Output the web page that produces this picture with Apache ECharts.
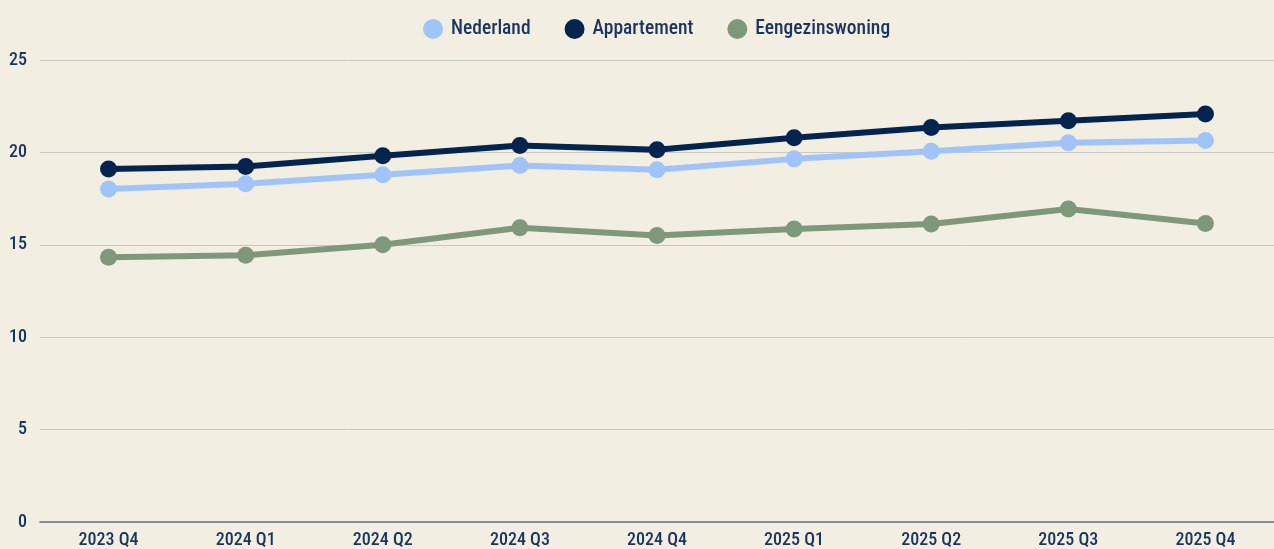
<!DOCTYPE html>
<html>
<head>
<meta charset="utf-8">
<script src="https://cdn.jsdelivr.net/npm/echarts@6/dist/echarts.min.js"></script>
<style>
  html, body { margin: 0; padding: 0; background: #f2eee2; }
  #chart { width: 1274px; height: 549px; }
</style>
</head>
<body>
<div id="chart"></div>
<script>
var categories = ['2023 Q4', '2024 Q1', '2024 Q2', '2024 Q3', '2024 Q4', '2025 Q1', '2025 Q2', '2025 Q3', '2025 Q4'];
var nederland = [18.02, 18.30, 18.79, 19.29, 19.06, 19.65, 20.06, 20.52, 20.65];
var appartement = [19.10, 19.24, 19.82, 20.37, 20.14, 20.79, 21.35, 21.71, 22.08];
var eengezinswoning = [14.33, 14.43, 15.00, 15.92, 15.50, 15.86, 16.13, 16.94, 16.15];

var font = '"Roboto Condensed", "DejaVu Sans Condensed", sans-serif';
var textColor = '#1b355e';

function lineSeries(name, data, color) {
  return {
    name: name,
    type: 'line',
    data: data,
    symbol: 'circle',
    symbolSize: 17,
    lineStyle: { width: 6, color: color },
    itemStyle: { color: color },
    emphasis: { disabled: true }
  };
}

var chart = echarts.init(document.getElementById('chart'));
chart.setOption({
  backgroundColor: '#f2eee2',
  animation: false,
  textStyle: { fontFamily: font },
  legend: {
    top: 14,
    left: 418,
    icon: 'circle',
    itemWidth: 20,
    itemHeight: 20,
    itemGap: 34,
    textStyle: { fontFamily: font, fontSize: 19.5, fontWeight: 500, color: textColor, padding: [0, 0, 0, 3] }
  },
  grid: { left: 40, right: 0, top: 60, bottom: 26 },
  xAxis: {
    type: 'category',
    data: categories,
    boundaryGap: true,
    axisLine: { lineStyle: { color: '#6a7480', width: 1.5 } },
    axisTick: { show: false },
    axisLabel: { color: textColor, fontFamily: font, fontSize: 18, fontWeight: 500, margin: 9 }
  },
  yAxis: {
    type: 'value',
    min: 0,
    max: 25,
    interval: 5,
    axisLine: { show: false },
    axisTick: { show: false },
    axisLabel: { color: textColor, fontFamily: font, fontSize: 18, fontWeight: 500, margin: 13 },
    splitLine: { lineStyle: { color: '#c9c9c4', width: 1 } }
  },
  series: [
    lineSeries('Nederland', nederland, '#a0c4f9'),
    lineSeries('Appartement', appartement, '#03244f'),
    lineSeries('Eengezinswoning', eengezinswoning, '#7f977b')
  ]
});
</script>
</body>
</html>
